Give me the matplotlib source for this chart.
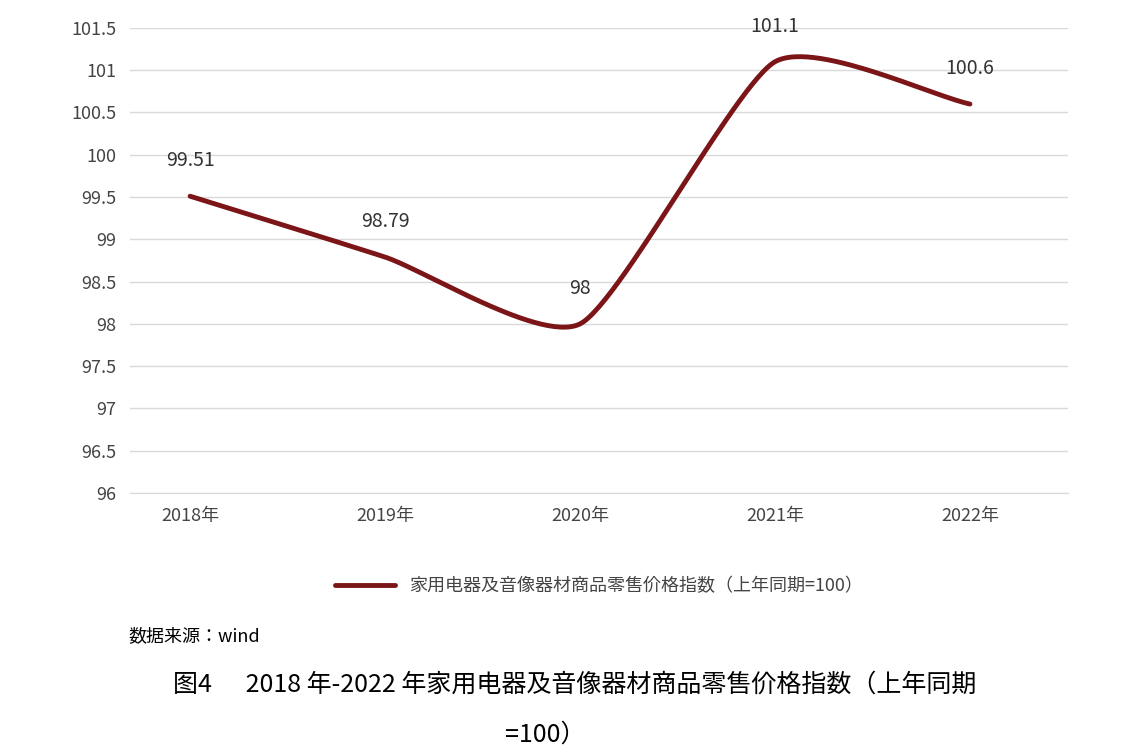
import matplotlib
matplotlib.use("Agg")
import matplotlib.pyplot as plt
from matplotlib import font_manager as fm
import numpy as np

categories = ["2018年", "2019年", "2020年", "2021年", "2022年"]
values = [99.51, 98.79, 98.0, 101.1, 100.6]
labels = ["99.51", "98.79", "98", "101.1", "100.6"]
yticks = [96, 96.5, 97, 97.5, 98, 98.5, 99, 99.5, 100, 100.5, 101, 101.5]

cjk = None
for f in fm.findSystemFonts():
    if "CJK" in f or "cjk" in f.lower():
        try:
            fm.fontManager.addfont(f)
        except Exception:
            pass
names = {f.name for f in fm.fontManager.ttflist}
for n in ["Noto Sans CJK SC", "Noto Sans CJK JP", "Noto Sans CJK TC", "Noto Sans CJK KR"]:
    if n in names:
        cjk = n
        break
plt.rcParams["font.family"] = [cjk] if cjk else ["DejaVu Sans"]

fig = plt.figure(figsize=(11.26, 7.55), dpi=100)
ax = fig.add_axes([0.1155, 0.347, 0.833, 0.616])

x = np.arange(len(values), dtype=float)
y = np.array(values)
s = 0.6
xs, ys = [], []
n = len(x)
def tang(arr, i):
    a = arr[max(i-1, 0)]; b = arr[min(i+1, n-1)]
    return s * (b - a) / 2 * (2 if i in (0, n-1) else 1)
for i in range(n-1):
    t = np.linspace(0, 1, 60)
    h00 = 2*t**3-3*t**2+1; h10 = t**3-2*t**2+t; h01 = -2*t**3+3*t**2; h11 = t**3-t**2
    for arr, out in ((x, xs), (y, ys)):
        out.extend(h00*arr[i] + h10*tang(arr, i) + h01*arr[i+1] + h11*tang(arr, i+1))
color = "#7B1517"
ax.plot(xs, ys, color=color, lw=3.5, solid_capstyle="round",
        label="家用电器及音像器材商品零售价格指数（上年同期=100）")
for xi, yi, lb in zip(x, y, labels):
    ax.text(xi, yi + 0.42, lb, ha="center", va="center", fontsize=14, color="#333333")

ax.set_xlim(-0.308, 4.503)
ax.set_ylim(96, 101.5)
ax.set_yticks(yticks)
ax.set_yticklabels([f"{v:g}" for v in yticks], fontsize=13, color="#444444")
ax.set_xticks(x)
ax.set_xticklabels(categories, fontsize=13, color="#444444")
ax.grid(axis="y", color="#d9d9d9", lw=1)
ax.set_axisbelow(True)
for sp in ax.spines.values():
    sp.set_visible(False)
ax.spines["bottom"].set_visible(True)
ax.spines["bottom"].set_color("#d9d9d9")
ax.tick_params(length=0, pad=10)
ax.legend(loc="center", bbox_to_anchor=(0.5, -0.2), frameon=False, fontsize=13,
          handlelength=3.3, labelcolor="#444444")

fig.text(128/1126, 1-636/755, "数据来源：wind", fontsize=13, va="center", ha="left")
fig.text(0.51, 1-685/755, "图4      2018 年-2022 年家用电器及音像器材商品零售价格指数（上年同期",
         fontsize=18, va="center", ha="center")
fig.text(545/1126, 1-735/755, "=100）", fontsize=18, va="center", ha="center")
fig.savefig("out.png", dpi=100)
